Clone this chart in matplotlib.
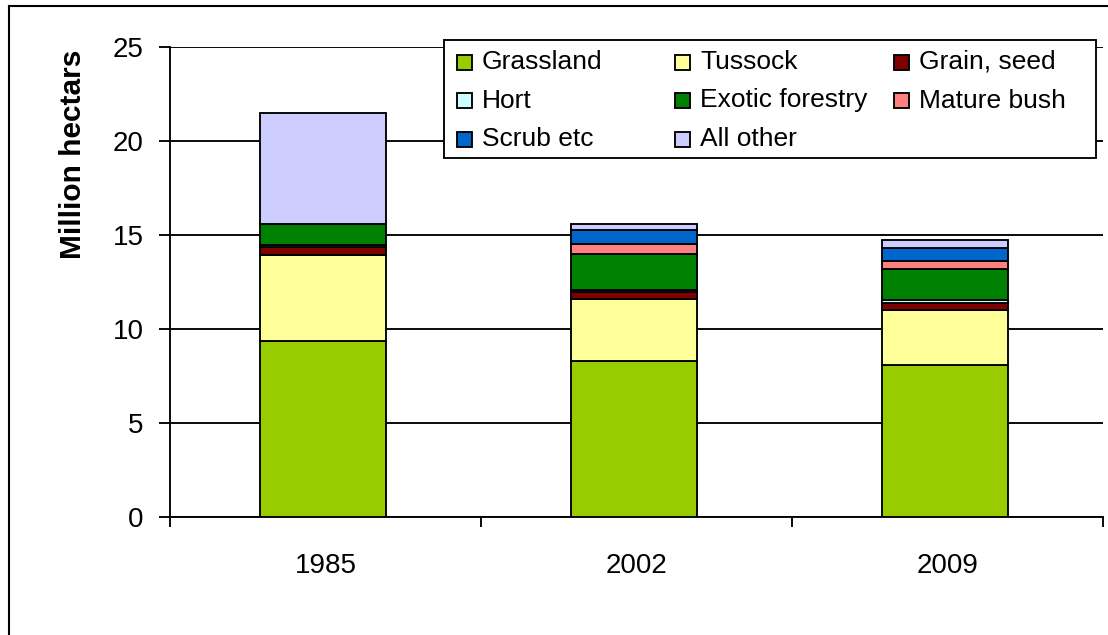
import matplotlib
matplotlib.use("Agg")
import matplotlib.pyplot as plt
from matplotlib.patches import Rectangle
from matplotlib.lines import Line2D
import numpy as np

plt.rcParams['font.family'] = ['Liberation Sans', 'DejaVu Sans']

years = ["1985", "2002", "2009"]
series_names = ["Grassland", "Tussock", "Grain, seed", "Hort", "Exotic forestry",
                "Mature bush", "Scrub etc", "All other"]
grassland = [9.38, 8.30, 8.09]
tussock = [4.56, 3.28, 2.92]
grain_seed = [0.40, 0.37, 0.39]
hort = [0.15, 0.15, 0.14]
exotic_forestry = [1.10, 1.87, 1.65]
mature_bush = [0.0, 0.53, 0.44]
scrub_etc = [0.0, 0.77, 0.66]
all_other = [5.88, 0.32, 0.44]
colors = ["#99CC00", "#FFFF99", "#800000", "#CCFFFF", "#008000",
          "#FF8080", "#0066CC", "#CCCCFF"]
yticks = [0, 5, 10, 15, 20, 25]

series = [grassland, tussock, grain_seed, hort, exotic_forestry,
          mature_bush, scrub_etc, all_other]

W, H = 1108, 635
LW = 1.35
fig = plt.figure(figsize=(W / 100, H / 100), dpi=100)
ax = fig.add_axes([170 / W, 1 - 517 / H, (1103 - 170) / W, (517 - 47) / H])

x = np.arange(len(years))
bottom = np.zeros(len(years))
for vals, c in zip(series, colors):
    ax.bar(x - 0.008, vals, width=0.405, bottom=bottom, color=c, edgecolor="black",
           linewidth=LW, zorder=3)
    bottom += np.array(vals)

ax.set_xlim(-0.5, 2.5)
ax.set_ylim(0, 25)
ax.set_yticks(yticks)
ax.set_yticklabels([str(v) for v in yticks], fontsize=20)
ax.yaxis.grid(True, color="black", linewidth=LW, zorder=0)
ax.set_axisbelow(True)
ax.tick_params(axis="y", direction="out", length=8, width=LW, pad=11)

ax.set_xticks([-0.5, 0.5, 1.5, 2.5])
ax.set_xticklabels([])
ax.set_xticks(x, minor=True)
ax.set_xticklabels(years, minor=True, fontsize=20)
ax.tick_params(axis="x", which="major", direction="out", length=7, width=LW)
ax.tick_params(axis="x", which="minor", length=0, pad=26)

for s in ["top", "right"]:
    ax.spines[s].set_visible(False)
for s in ["left", "bottom"]:
    ax.spines[s].set_linewidth(LW)

fig.text(73 / W, 1 - 154 / H, "Million hectars", rotation=90, fontsize=21.5,
         fontweight="bold", ha="center", va="center")

# legend (manual, Excel-like equal column widths)
fig.patches.append(Rectangle((444 / W, 1 - 158 / H), (1096 - 444) / W, (158 - 40) / H,
                             transform=fig.transFigure, facecolor="white",
                             edgecolor="black", linewidth=LW, zorder=5))
col_x = [457, 675, 894]
row_y = [62, 100.5, 139]
for i, name in enumerate(series_names):
    r, c = divmod(i, 3)
    mx, my = col_x[c], row_y[r]
    fig.patches.append(Rectangle((mx / W, 1 - (my + 7.5) / H), 15 / W, 15 / H,
                                 transform=fig.transFigure, facecolor=colors[i],
                                 edgecolor="black", linewidth=LW, zorder=6))
    fig.text((mx + 25) / W, 1 - my / H, name, fontsize=19,
             ha="left", va="center", zorder=7)

# outer chart frame
fig.lines.append(Line2D([9 / W, 9 / W], [0, 1 - 6 / H], transform=fig.transFigure,
                        color="black", linewidth=1.5))
fig.lines.append(Line2D([9 / W, 1], [1 - 6 / H, 1 - 6 / H], transform=fig.transFigure,
                        color="black", linewidth=1.5))

fig.savefig("out.png", dpi=100)
